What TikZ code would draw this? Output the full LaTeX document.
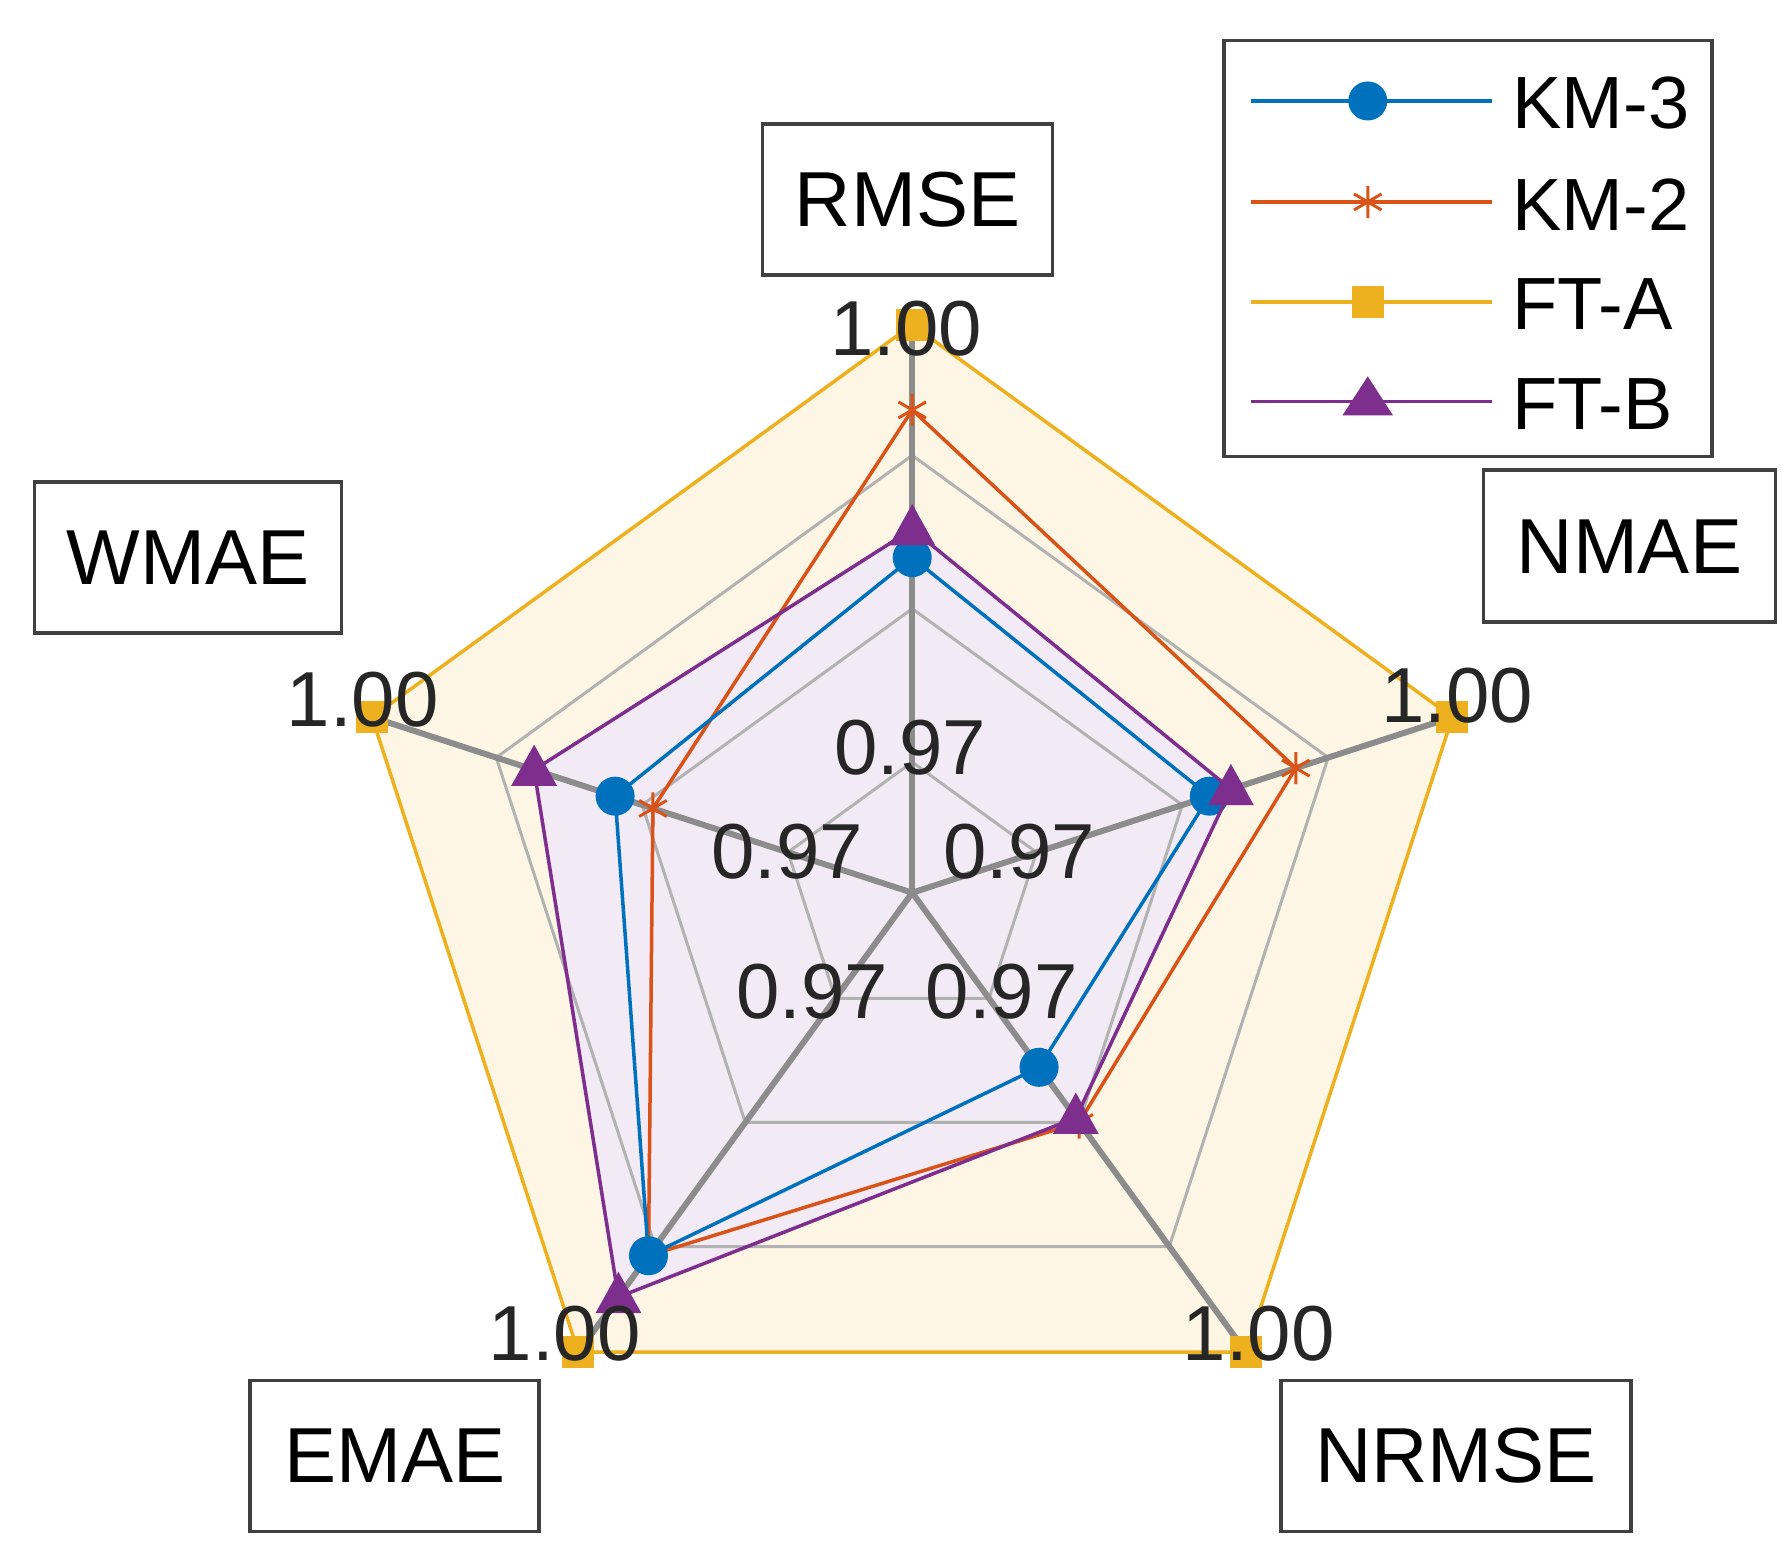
\documentclass[tikz,border=0pt]{standalone}
\usepackage{fontspec}
\setmainfont{Liberation Sans}
\usetikzlibrary{calc}
\begin{document}
\begin{tikzpicture}[x=1.1474pt,y=-1.1474pt,
 lbl/.style={draw=black!75,line width=3.5pt,fill=white,font=\fontsize{78}{82}\selectfont,inner sep=0pt},
 tick/.style={font=\fontsize{78}{82}\selectfont,text=black!85,inner sep=0pt},
 leg/.style={font=\fontsize{74}{80}\selectfont,anchor=west,inner sep=0pt},
 grid/.style={draw=black!30,line width=3pt},
 axis/.style={draw=black!45,line width=6pt},
 ser/.style={line width=3.5pt}]
\definecolor{cA}{RGB}{0,114,189}
\definecolor{cB}{RGB}{217,83,25}
\definecolor{cC}{RGB}{237,177,32}
\definecolor{cD}{RGB}{126,47,142}
\newcommand{\starmk}[1]{\draw[cB,line width=3pt] ($#1+(0,-14)$)--($#1+(0,14)$) ($#1+(-12,-7)$)--($#1+(12,7)$) ($#1+(-12,7)$)--($#1+(12,-7)$);}
\useasboundingbox (0,0) rectangle (1560,1353);
\coordinate (O) at (795,778);
\def\R{495}
\fill[cC!12] (O)+(-90:\R)--+(-18:\R)--+(54:\R)--+(126:\R)--+(-162:\R)--cycle;
\fill[cD!10] (O)+(-90:0.64*\R)--+(-18:0.59*\R)--+(54:0.49*\R)--+(126:0.88*\R)--+(-162:0.70*\R)--cycle;
\foreach \f in {0.23,0.5,0.77}{
 \draw[grid] (O)+(-90:\f*\R)--+(-18:\f*\R)--+(54:\f*\R)--+(126:\f*\R)--+(-162:\f*\R)--cycle;}
\foreach \a in {-90,-18,54,126,-162}{\draw[axis] (O)--+(\a:\R);}
\draw[cC,ser] (O)+(-90:\R)--+(-18:\R)--+(54:\R)--+(126:\R)--+(-162:\R)--cycle;
\foreach \a in {-90,-18,54,126,-162}{\fill[cC] ($(O)+(\a:\R)+(-14,-14)$) rectangle ++(28,28);}
\draw[cB,ser] (O)+(-90:0.85*\R)--+(-18:0.71*\R)--+(54:0.50*\R)--+(126:0.79*\R)--+(-162:0.48*\R)--cycle;
\foreach \a/\f in {-90/0.85,-18/0.71,54/0.50,126/0.79,-162/0.48}{\starmk{($(O)+(\a:\f*\R)$)}}
\draw[cA,ser] (O)+(-90:0.59*\R)--+(-18:0.55*\R)--+(54:0.38*\R)--+(126:0.79*\R)--+(-162:0.55*\R)--cycle;
\foreach \a/\f in {-90/0.59,-18/0.55,54/0.38,126/0.79,-162/0.55}{\fill[cA] ($(O)+(\a:\f*\R)$) circle (17);}
\draw[cD,ser] (O)+(-90:0.64*\R)--+(-18:0.59*\R)--+(54:0.49*\R)--+(126:0.88*\R)--+(-162:0.70*\R)--cycle;
\foreach \a/\f in {-90/0.64,-18/0.59,54/0.49,126/0.88,-162/0.70}{\fill[cD] ($(O)+(\a:\f*\R)$) +(0,-22)--+(20,14)--+(-20,14)--cycle;}
\node[tick] (t1) at (790,286) {1.00};
\node[tick] (t2) at (1270,606) {1.00};
\node[tick] (t3) at (1097,1162) {1.00};
\node[tick] (t4) at (492,1162) {1.00};
\node[tick] (t5) at (316,610) {1.00};
\node[tick] (s1) at (793,652) {0.97};
\node[tick] (s2) at (686,742) {0.97};
\node[tick] (s3) at (888,742) {0.97};
\node[tick] (s4) at (708,864) {0.97};
\node[tick] (s5) at (873,864) {0.97};
\node[lbl,minimum width=290pt,minimum height=151pt] (rmse) at (791,174) {RMSE};
\node[lbl,minimum width=307pt,minimum height=151pt] (wmae) at (164,486) {WMAE};
\node[lbl,minimum width=292pt,minimum height=152pt] (nmae) at (1420,476) {NMAE};
\node[lbl,minimum width=289pt,minimum height=151pt] (emae) at (344,1269) {EMAE};
\node[lbl,minimum width=350pt,minimum height=151pt] (nrmse) at (1269,1269) {NRMSE};
\node[draw=black!75,line width=3.5pt,fill=white,minimum width=488pt,minimum height=416pt,inner sep=0pt] (legend) at (1279.5,216.5) {};
\draw[cA,ser] (1090,88)--(1300,88); \fill[cA] (1192,88) circle (17);
\node[leg] (l1) at (1318,90) {KM-3};
\draw[cB,ser] (1090,176)--(1300,176); \starmk{(1192,176)}
\node[leg] (l2) at (1318,178) {KM-2};
\draw[cC,ser] (1090,263)--(1300,263); \fill[cC] (1178,249) rectangle (1206,277);
\node[leg] (l3) at (1318,265) {FT-A};
\draw[cD,ser] (1090,350)--(1300,350); \fill[cD] (1192,328)--(1214,362)--(1170,362)--cycle;
\node[leg] (l4) at (1318,352) {FT-B};
\end{tikzpicture}
\end{document}
